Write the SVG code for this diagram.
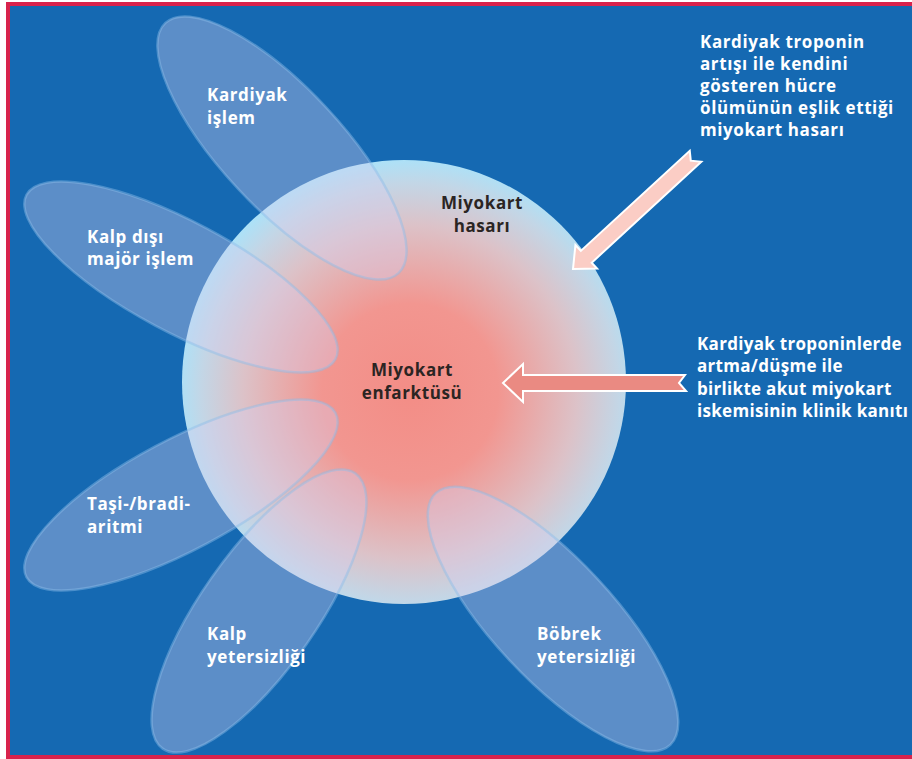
<svg xmlns="http://www.w3.org/2000/svg" width="912" height="759" viewBox="0 0 912 759">
<style>
.lbl{font-family:"Open Sans",Lato,"DejaVu Sans",sans-serif;font-weight:700;font-size:17px;letter-spacing:0.6px;fill:#ffffff}
.tight{letter-spacing:0.3px}
.dark{font-family:"Open Sans",Lato,"DejaVu Sans",sans-serif;font-weight:700;font-size:17px;letter-spacing:0.6px;fill:#2b2523;text-anchor:middle}
.petal{fill:#d6cdf0;fill-opacity:0.37;stroke:#8cbde9;stroke-opacity:0.45;stroke-width:2.5}
.arrow{stroke:#ffffff;stroke-width:2;stroke-linejoin:miter}
</style>
<defs>
<radialGradient id="core" cx="410" cy="392" r="232" gradientUnits="userSpaceOnUse">
<stop offset="0" stop-color="#f38d86"/>
<stop offset="0.38" stop-color="#f29690"/>
<stop offset="0.72" stop-color="#dcc2c8"/>
<stop offset="0.9" stop-color="#c3d6e6"/>
<stop offset="1" stop-color="#ade1f7"/>
</radialGradient>
</defs>
<rect x="0" y="0" width="912" height="759" fill="#ffffff"/>
<rect x="6" y="2" width="906" height="757" fill="#d8234c"/>
<rect x="10" y="6" width="902" height="749" fill="#1569b2"/>

<g id="miyokart-hasari">
<circle cx="404" cy="382" r="222" fill="url(#core)"/>
<text class="dark" x="482" y="209">Miyokart</text>
<text class="dark" x="482" y="232">hasarı</text>
</g>
<g id="miyokart-enfarktusu">
<text class="dark" x="412" y="376">Miyokart</text>
<text class="dark" x="412" y="399">enfarktüsü</text>
</g>

<g id="kardiyak-islem">
<ellipse class="petal" cx="282" cy="148" rx="171" ry="60" transform="rotate(47 282 148)"/>
<text class="lbl" x="207" y="101">Kardiyak</text>
<text class="lbl" x="207" y="124">işlem</text>
</g>
<g id="kalp-disi">
<ellipse class="petal" cx="181" cy="277" rx="175" ry="55" transform="rotate(28 181 277)"/>
<text class="lbl" x="87" y="243">Kalp dışı</text>
<text class="lbl" x="87" y="265">majör işlem</text>
</g>
<g id="aritmi">
<ellipse class="petal" cx="181" cy="495" rx="175" ry="55" transform="rotate(-28 181 495)"/>
<text class="lbl" x="87" y="510">Taşi-/bradi-</text>
<text class="lbl" x="87" y="533">aritmi</text>
</g>
<g id="kalp-yetersizligi">
<ellipse class="petal" cx="259" cy="611" rx="168" ry="58" transform="rotate(-55 259 611)"/>
<text class="lbl" x="207" y="640">Kalp</text>
<text class="lbl" x="207" y="663">yetersizliği</text>
</g>
<g id="bobrek-yetersizligi">
<ellipse class="petal" cx="553" cy="619" rx="172" ry="60" transform="rotate(47 553 619)"/>
<text class="lbl" x="537" y="640">Böbrek</text>
<text class="lbl" x="537" y="663">yetersizliği</text>
</g>

<g id="connectors">
<path class="arrow" fill="#fbcdc5" d="M0,0 L18,-16 L18,-8 L166,-8 L160,0 L167,8 L18,8 L18,16 Z" transform="translate(573,269) rotate(-42.6)"/>
<path class="arrow" fill="#ea8a82" d="M503,383 L523,364 L523,375 L685,375 L679,383 L686,391 L523,391 L523,402 Z"/>
</g>

<g id="hasar-tanimi">
<text class="lbl" x="700" y="48">Kardiyak troponin</text>
<text class="lbl" x="700" y="70">artışı ile kendini</text>
<text class="lbl" x="700" y="92">gösteren hücre</text>
<text class="lbl" x="700" y="114">ölümünün eşlik ettiği</text>
<text class="lbl" x="700" y="136">miyokart hasarı</text>
</g>
<g id="enfarktus-tanimi">
<text class="lbl tight" x="697" y="350">Kardiyak troponinlerde</text>
<text class="lbl tight" x="697" y="372">artma/düşme ile</text>
<text class="lbl tight" x="697" y="395">birlikte akut miyokart</text>
<text class="lbl tight" x="697" y="417">iskemisinin klinik kanıtı</text>
</g>
</svg>
